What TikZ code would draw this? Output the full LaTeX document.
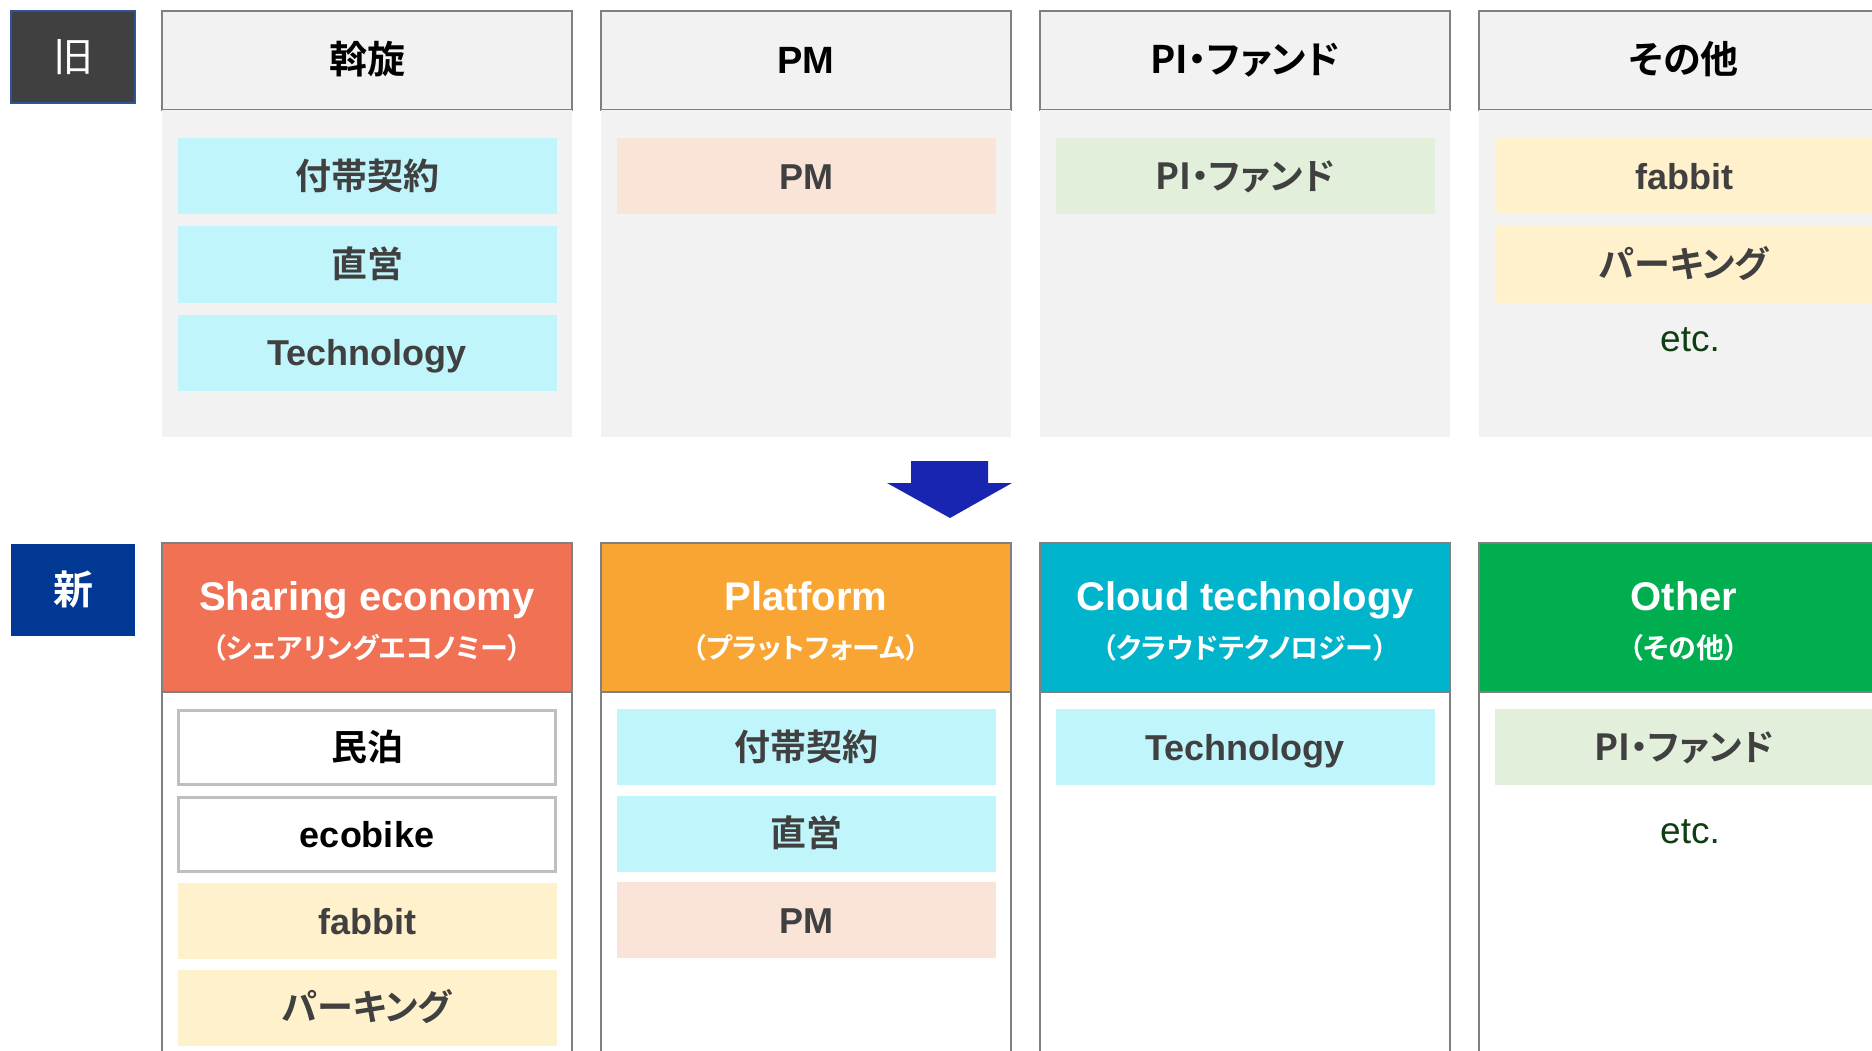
\documentclass[tikz,border=0pt]{standalone}
\usepackage{fontspec}
\setmainfont{Liberation Sans}
\newfontfamily\jafont{Noto Sans CJK JP}[BoldFont=* Bold, RawFeature=+palt]
\usetikzlibrary{positioning}
\definecolor{oldgray}{HTML}{404040}
\definecolor{oldblue}{HTML}{2F5597}
\definecolor{newblue}{HTML}{003893}
\definecolor{arrowblue}{HTML}{1725B0}
\definecolor{panelgray}{HTML}{F2F2F2}
\definecolor{framegray}{HTML}{808080}
\definecolor{boxgray}{HTML}{BFBFBF}
\definecolor{textgray}{HTML}{404040}
\definecolor{etcgreen}{HTML}{0E3F12}
\definecolor{coral}{HTML}{F07153}
\definecolor{amber}{HTML}{F8A533}
\definecolor{teal}{HTML}{00B4CC}
\definecolor{leaf}{HTML}{00AD4F}
\definecolor{skyitem}{HTML}{C1F5FC}
\definecolor{peachitem}{HTML}{FAE4D7}
\definecolor{mintitem}{HTML}{E2EFDA}
\definecolor{creamitem}{HTML}{FFF1CC}
\newcommand{\ja}[1]{{\jafont #1}}
\newcommand{\fs}[1]{\fontsize{#1}{#1}\selectfont}
% two-line title of a new segment
\newcommand{\hd}[2]{\rule{0pt}{36pt}#1\\{\fontsize{28}{48}\selectfont\ja{#2}}}

\begin{document}
\begin{tikzpicture}[
      x=1pt, y=-1pt,
      nodes={inner sep=0pt, outer sep=0pt},
      eratag/.style={minimum width=124pt, minimum height=92pt, text=white, font=\fs{40}},
      oldhead/.style={
        draw=framegray, line width=2.5pt, fill=panelgray,
        minimum width=410pt, minimum height=99pt, font=\fs{38}\bfseries,
        text height=27pt, text depth=0pt
      },
      oldpanel/.style={fill=panelgray, minimum width=410pt, minimum height=327pt},
      newpanel/.style={draw=framegray, line width=1.2pt, fill=white,
        minimum width=410pt, minimum height=540pt},
      newhead/.style={
        fill=#1, draw=framegray, line width=1.2pt, text=white, align=center,
        minimum width=410pt, minimum height=149pt,
        font=\fontsize{40}{48}\selectfont\bfseries
      },
      itembox/.style={fill=#1, minimum width=379pt, minimum height=76pt,
        text=textgray, font=\fs{36}\bfseries, text height=26pt, text depth=0pt},
      plainbox/.style={draw=boxgray, line width=2.5pt, fill=white, outer sep=1.25pt,
        minimum width=377pt, minimum height=74pt, font=\fs{36}\bfseries,
        text height=26pt, text depth=0pt},
      etcnote/.style={text=etcgreen, font=\fs{37}},
      node distance=12pt
      ]

  \useasboundingbox (0,0) rectangle (1872,1051);
  \clip (0,0) rectangle (1872,1051);

  % Old structure
  \node[eratag, fill=oldgray, draw=oldblue, line width=1.5pt] (old) at (73,57) {\ja{旧}};

  \node[oldhead]                  (oh1) at (367,60.5) {\ja{斡旋}};
  \node[oldhead, right=29pt of oh1] (oh2) {PM};
  \node[oldhead, right=29pt of oh2] (oh3) {\ja{PI・ファンド}};
  \node[oldhead, right=29pt of oh3] (oh4) {\ja{その他}};

  \node[oldpanel, below=0pt of oh1] (op1) {};
  \node[oldpanel, below=0pt of oh2] (op2) {};
  \node[oldpanel, below=0pt of oh3] (op3) {};
  \node[oldpanel, below=0pt of oh4] (op4) {};

  \node[itembox=skyitem, below=28.5pt of oh1] (o1a) {\ja{付帯契約}};
  \node[itembox=skyitem, below=of o1a]        (o1b) {\ja{直営}};
  \node[itembox=skyitem, below=of o1b]        (o1c) {Technology};

  \node[itembox=peachitem, below=28.5pt of oh2] (o2a) {PM};

  \node[itembox=mintitem, below=28.5pt of oh3] (o3a) {\ja{PI・ファンド}};

  \node[itembox=creamitem, below=28.5pt of oh4] (o4a) {fabbit};
  \node[itembox=creamitem, below=of o4a]        (o4b) {\ja{パーキング}};
  \node[etcnote] (o4etc) at (1690,340) {etc.};

  % Arrow
  \fill[arrowblue] (911,461) -- (988,461) -- (988,483) -- (1012,483)
    -- (950,518) -- (887,483) -- (911,483) -- cycle;

  % New structure
  \node[eratag, fill=newblue, font=\fs{40}\bfseries] (new) at (73,589.5) {\ja{新}};

  \node[newpanel, anchor=north] (np1) at (367,543) {};
  \node[newpanel, right=29pt of np1] (np2) {};
  \node[newpanel, right=29pt of np2] (np3) {};
  \node[newpanel, right=29pt of np3] (np4) {};

  \node[newhead=coral, anchor=north] (nh1) at (np1.north) {\hd{Sharing economy}{（シェアリングエコノミー）}};
  \node[newhead=amber, anchor=north] (nh2) at (np2.north) {\hd{Platform}{（プラットフォーム）}};
  \node[newhead=teal,  anchor=north] (nh3) at (np3.north) {\hd{Cloud technology}{（クラウドテクノロジー）}};
  \node[newhead=leaf,  anchor=north] (nh4) at (np4.north) {\hd{Other}{（その他）}};

  \begin{scope}[node distance=10.5pt]
    \node[plainbox, below=17pt of nh1]       (n1a) {\ja{民泊}};
    \node[plainbox, below=of n1a]            (n1b) {ecobike};
    \node[itembox=creamitem, below=of n1b]   (n1c) {fabbit};
    \node[itembox=creamitem, below=of n1c]   (n1d) {\ja{パーキング}};

    \node[itembox=skyitem, below=17pt of nh2] (n2a) {\ja{付帯契約}};
    \node[itembox=skyitem, below=of n2a]      (n2b) {\ja{直営}};
    \node[itembox=peachitem, below=of n2b]    (n2c) {PM};

    \node[itembox=skyitem, below=17pt of nh3] (n3a) {Technology};

    \node[itembox=mintitem, below=17pt of nh4] (n4a) {\ja{PI・ファンド}};
  \end{scope}
  \node[etcnote] (n4etc) at (1690,832) {etc.};

\end{tikzpicture}
\end{document}
